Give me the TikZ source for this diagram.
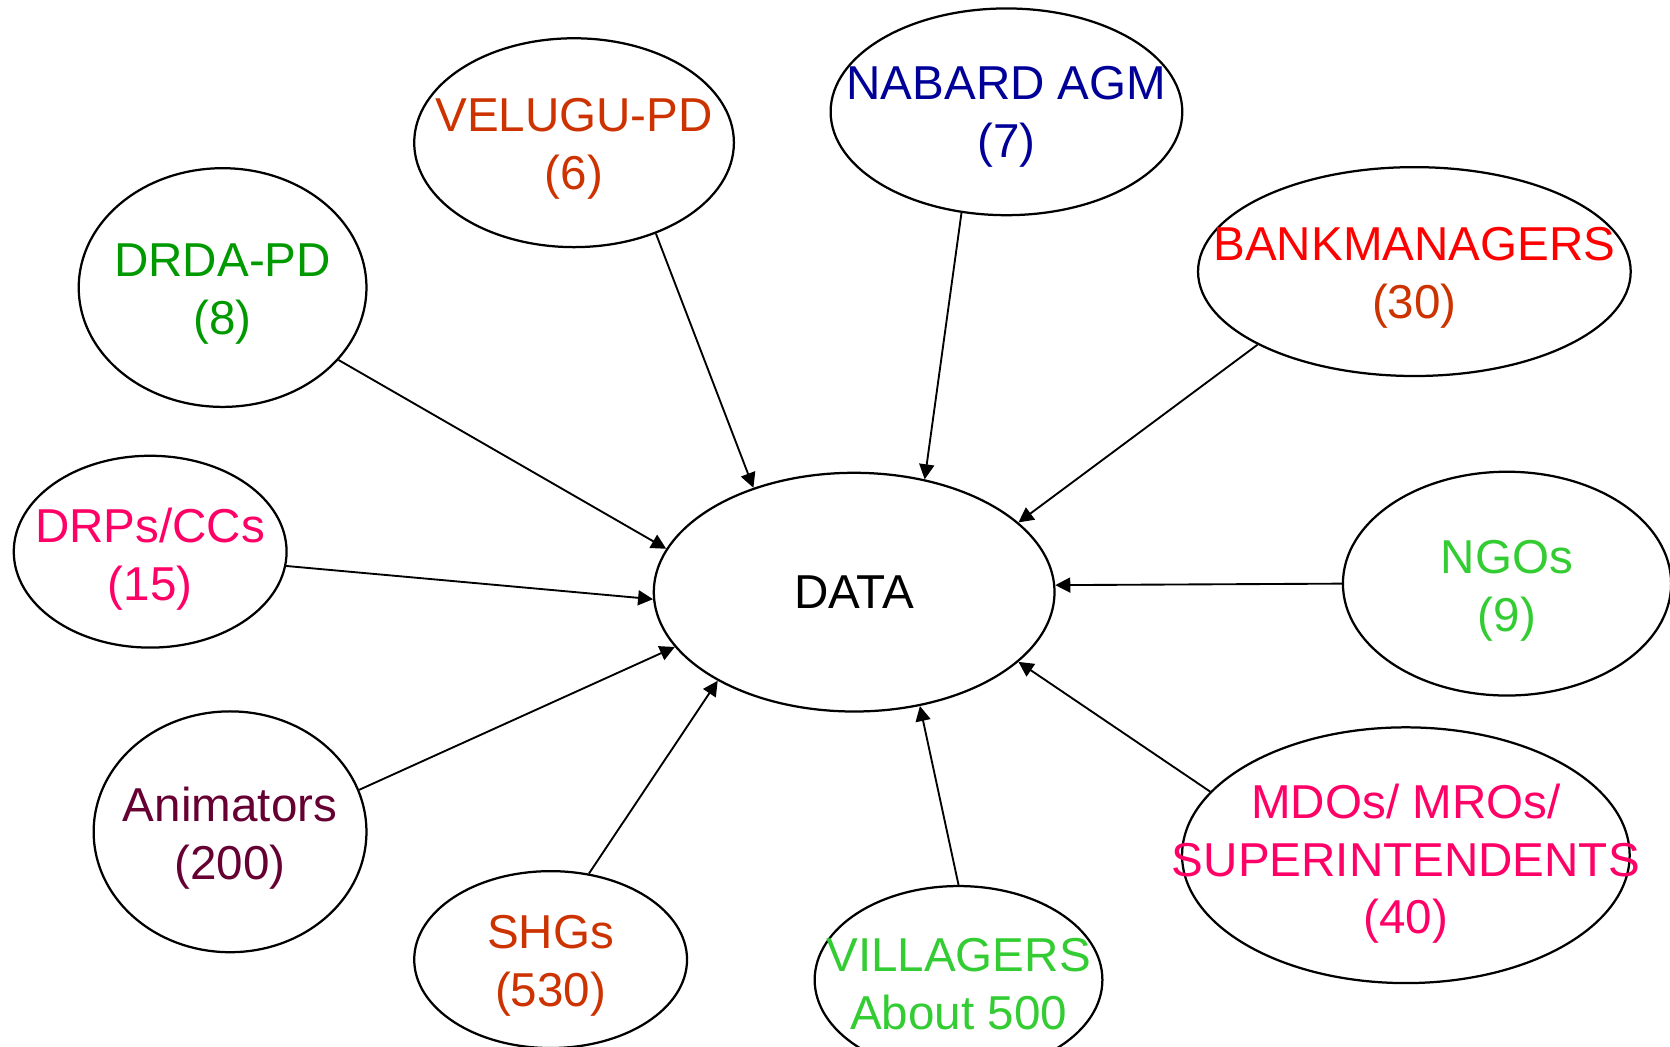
\documentclass[tikz,border=0pt]{standalone}
\usepackage{fontspec}
\setmainfont{Liberation Sans}
\usetikzlibrary{shapes.geometric,arrows.meta}
\definecolor{corange}{HTML}{CC3300}
\definecolor{cnavy}{HTML}{000099}
\definecolor{cgreen}{HTML}{009900}
\definecolor{cred}{HTML}{FF0000}
\definecolor{cpink}{HTML}{FF0066}
\definecolor{clgreen}{HTML}{33CC33}
\definecolor{cmaroon}{HTML}{660033}
\begin{document}
\begin{tikzpicture}[x=0.01cm,y=-0.01cm,
  ell/.style={ellipse,draw=black,line width=0.6pt,inner sep=0pt},
  txt/.style={font=\fontsize{12.7pt}{15.4pt}\selectfont,align=center,inner sep=0pt},
  conn/.style={draw=black,line width=0.5pt,-{Triangle[length=4pt,width=4pt]}}]
\useasboundingbox (0,0) rectangle (1568,983);
\clip (0,0) rectangle (1568,983);
% ellipses
\node[ell,minimum width=3.76cm,minimum height=2.24cm] (data) at (802,556) {};
\node[ell,minimum width=3.00cm,minimum height=1.96cm] (velugu) at (539,134) {};
\node[ell,minimum width=3.30cm,minimum height=1.94cm] (nabard) at (945,105) {};
\node[ell,minimum width=2.70cm,minimum height=2.24cm] (drda) at (209,270) {};
\node[ell,minimum width=4.06cm,minimum height=1.96cm] (bank) at (1328,255) {};
\node[ell,minimum width=2.56cm,minimum height=1.80cm] (drps) at (141,518) {};
\node[ell,minimum width=3.08cm,minimum height=2.10cm] (ngos) at (1415,548) {};
\node[ell,minimum width=2.56cm,minimum height=2.26cm] (anim) at (216,781) {};
\node[ell,minimum width=2.56cm,minimum height=1.66cm] (shgs) at (517,901) {};
\node[ell,minimum width=2.70cm,minimum height=1.76cm] (vill) at (900,920) {};
\node[ell,minimum width=4.20cm,minimum height=2.40cm] (mdos) at (1320,803) {};
% texts
\node[txt,text=black] (tdata) at (802,556) {DATA};
\node[txt,text=corange] (tvelugu) at (539,140) {VELUGU-PD\\(6)};
\node[txt,text=cnavy] (tnabard) at (945,110) {NABARD AGM\\(7)};
\node[txt,text=cgreen] (tdrda) at (209,276) {DRDA-PD\\(8)};
\node[txt] (tbank) at (1328,261) {\textcolor{cred}{BANKMANAGERS}\\\textcolor{corange}{(30)}};
\node[txt,text=cpink] (tdrps) at (141,525) {DRPs/CCs\\(15)};
\node[txt,text=clgreen] (tngos) at (1415,555) {NGOs\\(9)};
\node[txt,text=cmaroon] (tanim) at (216,787) {Animators\\(200)};
\node[txt,text=corange] (tshgs) at (517,907) {SHGs\\(530)};
\node[txt,text=clgreen] (tvill) at (900,924) {VILLAGERS\\About 500};
\node[txt,text=cpink] (tmdos) at (1320,811) {MDOs/ MROs/\\SUPERINTENDENTS\\(40)};
% connectors
\draw[conn] (velugu.-48.2) -- (data.134.7);
\draw[conn] (nabard.-114.7) -- (data.58.8);
\draw[conn] (drda.-32.7) -- (data.167.5);
\draw[conn] (bank.205.4) -- (data.23.3);
\draw[conn] (drps.-6.7) -- (data.182.1);
\draw[conn] (ngos.180) -- (data.2.4);
\draw[conn] (anim.18.9) -- (data.197.2);
\draw[conn] (shgs.66) -- (data.213.5);
\draw[conn] (vill.90) -- (data.-60.9);
\draw[conn] (mdos.162.7) -- (data.-23.6);
\end{tikzpicture}
\end{document}
